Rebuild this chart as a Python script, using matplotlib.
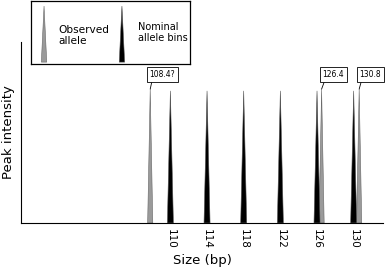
import matplotlib.pyplot as plt

# nominal allele bins and observed alleles (bp)
bins = [110, 114, 118, 122, 126, 130]
observed = [107.8, 126.5, 130.6]
obs_labels = ['108.4?', '126.4', '130.8']
tick_labels = ['110', '114', '118', '122', '126', '130']

fig = plt.figure(figsize=(3.87, 2.69), dpi=100)
ax = fig.add_axes([21/387, 46/269, 362/387, 181/269])
ax.set_xlim(93.7, 133.2)
ax.set_ylim(0, 1)

peak_h = 0.73
for b in bins:
    ax.fill([b - 0.33, b, b + 0.33], [0, peak_h, 0], color='black', ec='#555555', lw=0.4, zorder=3)
for o in observed:
    ax.fill([o - 0.28, o, o + 0.28], [0, peak_h + 0.01, 0], color='#9a9a9a', ec='#666666', lw=0.4, zorder=2)

# label boxes with leader lines
box_x = [109.1, 127.8, 131.8]
for o, lab, bx in zip(observed, obs_labels, box_x):
    ax.annotate(lab, xy=(o, peak_h + 0.01), xytext=(bx, 0.82), fontsize=5.5,
                ha='center', va='center',
                bbox=dict(boxstyle='square,pad=0.35', fc='white', ec='black', lw=0.6),
                arrowprops=dict(arrowstyle='-', lw=0.6, color='black',
                                relpos=(0.12, 0.0), shrinkA=0, shrinkB=0),
                annotation_clip=False)

ax.set_xticks(bins)
ax.set_xticklabels(tick_labels, rotation=270, fontsize=7.5)
ax.tick_params(axis='x', length=0, pad=4)
ax.set_yticks([])
for s in ['top', 'right']:
    ax.spines[s].set_visible(False)
ax.spines['left'].set_linewidth(0.8)
ax.spines['bottom'].set_linewidth(0.8)
ax.set_xlabel('Size (bp)', fontsize=9.5, labelpad=4)
ax.set_ylabel('Peak intensity', fontsize=9.5, labelpad=4)

# legend box
lg = fig.add_axes([31/387, 205/269, 159/387, 63/269])
lg.set_xlim(0, 1)
lg.set_ylim(0, 1)
lg.set_xticks([])
lg.set_yticks([])
for s in lg.spines.values():
    s.set_linewidth(0.9)
lg.fill([0.065, 0.082, 0.099], [0.03, 0.92, 0.03], color='#9a9a9a', ec='#666666', lw=0.4)
lg.fill([0.555, 0.572, 0.589], [0.03, 0.92, 0.03], color='black', ec='#555555', lw=0.4)
lg.text(0.17, 0.45, 'Observed\nallele', fontsize=7.6, va='center', ha='left', linespacing=1.2)
lg.text(0.67, 0.5, 'Nominal\nallele bins', fontsize=7.0, va='center', ha='left', linespacing=1.2)

fig.savefig('out.png', dpi=100)
